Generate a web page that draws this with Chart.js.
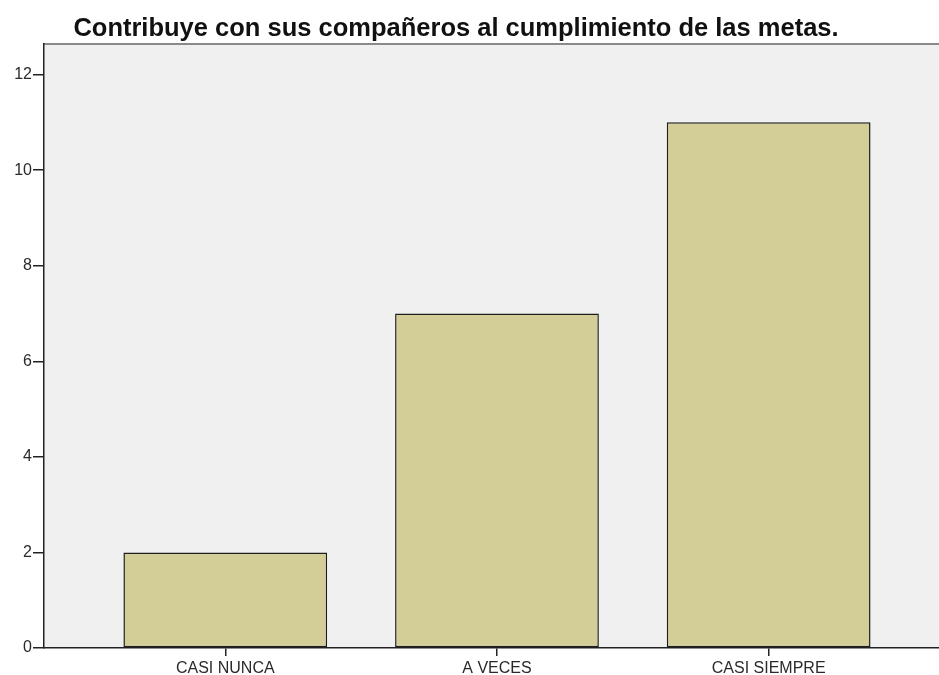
<!DOCTYPE html>
<html>
<head>
<meta charset="utf-8">
<script src="https://cdn.jsdelivr.net/npm/chart.js@4/dist/chart.umd.min.js"></script>
<style>
    html, body { margin:0; padding:0; background:#fff; }
    #wrap { position:relative; width:939px; height:675px; }
    #titulo { position:absolute; left:0; top:14px; width:912px; text-align:center;
              font:bold 25.5px "Liberation Sans", Arial, sans-serif; line-height:26px; color:#111; }
</style>
</head>
<body>
<div id="wrap">
    <canvas id="grafico" width="939" height="675"></canvas>
    <div id="titulo">Contribuye con sus compañeros al cumplimiento de las metas.</div>
</div>
<script>
    // ---------------- Dados ----------------
    const categorias = ['CASI NUNCA', 'A VECES', 'CASI SIEMPRE'];
    const frecuencias = [2, 7, 11];
    const ticksY = [0, 2, 4, 6, 8, 10, 12];

    const fonte = { family: '"Liberation Sans", Arial, sans-serif', size: 16 };

    // fundo cinzento da área do gráfico + linha superior
    const fundoArea = {
        id: 'fundoArea',
        beforeDraw(chart) {
            const { ctx, chartArea: a } = chart;
            ctx.save();
            ctx.fillStyle = '#f0f0f0';
            ctx.fillRect(a.left, a.top, a.right - a.left, a.bottom - a.top);
            ctx.strokeStyle = '#8a8a8a';
            ctx.lineWidth = 2;
            ctx.beginPath();
            ctx.moveTo(a.left, a.top);
            ctx.lineTo(a.right, a.top);
            ctx.stroke();
            ctx.restore();
        }
    };

    new Chart(document.getElementById('grafico'), {
        type: 'bar',
        data: {
            datasets: [{
                data: frecuencias.map((v, i) => ({ x: i + 1, y: v })),
                backgroundColor: '#d3ce97',
                borderColor: '#1e1e1e',
                borderWidth: 1.5,
                borderSkipped: false,
                categoryPercentage: 1,
                barPercentage: 0.75
            }]
        },
        options: {
            responsive: false,
            animation: false,
            layout: { padding: { top: 44, right: 0, left: 0, bottom: 0 } },
            plugins: { legend: { display: false }, tooltip: { enabled: false }, title: { display: false } },
            scales: {
                x: {
                    type: 'linear',
                    min: 0.3327,
                    max: 3.627,
                    offset: false,
                    grid: { offset: false, drawOnChartArea: false, drawTicks: true, tickLength: 8, color: '#222', lineWidth: 1.5 },
                    border: { color: '#222', width: 1.5 },
                    afterBuildTicks: s => { s.ticks = categorias.map((c, i) => ({ value: i + 1 })); },
                    afterFit: s => { s.height = 27; },
                    ticks: {
                        font: fonte, color: '#2a2a2a', padding: 3, maxRotation: 0, autoSkip: false,
                        callback: v => categorias[v - 1]
                    }
                },
                y: {
                    min: 0,
                    max: 12.64,
                    grid: { drawOnChartArea: false, drawTicks: true, tickLength: 11, color: '#222', lineWidth: 1.5 },
                    border: { color: '#222', width: 1.5 },
                    afterBuildTicks: s => { s.ticks = ticksY.map(v => ({ value: v })); },
                    afterFit: s => { s.width = 44; },
                    ticks: { font: fonte, color: '#2a2a2a', padding: 1 }
                }
            }
        },
        plugins: [fundoArea]
    });
</script>
</body>
</html>
